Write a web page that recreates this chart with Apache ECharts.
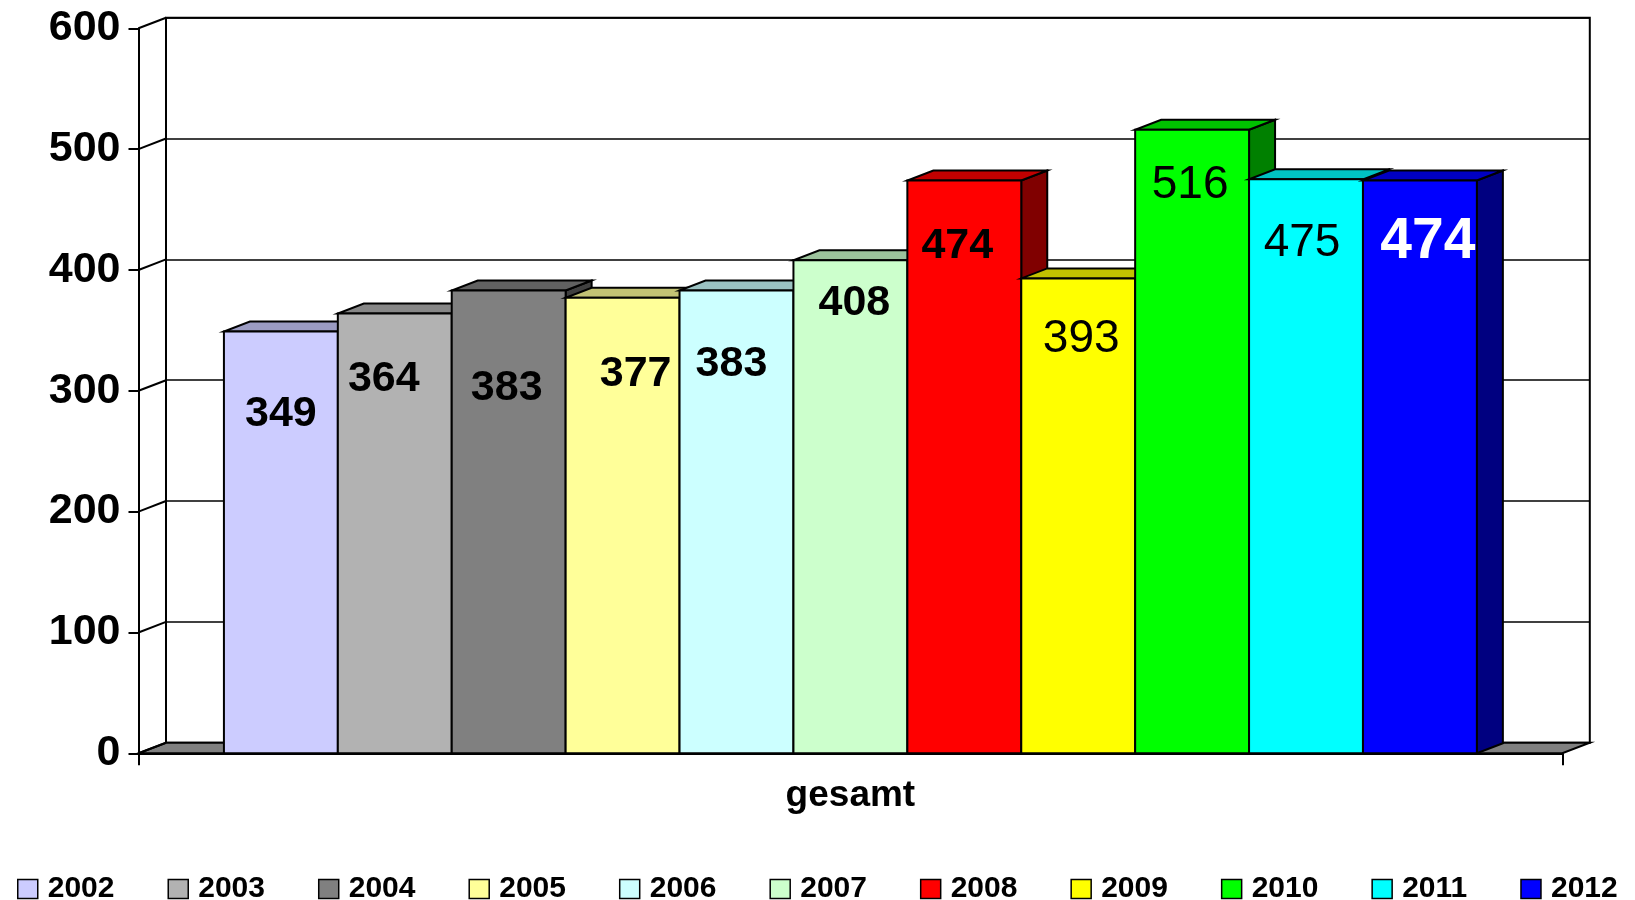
<!DOCTYPE html>
<html>
<head>
<meta charset="utf-8">
<script src="https://cdn.jsdelivr.net/npm/echarts@6/dist/echarts.min.js"></script>
<style>
html,body{margin:0;padding:0;background:#fff;}
#chart{width:1635px;height:900px;}
</style>
</head>
<body>
<div id="chart"></div>
<script>
// ---- data ----
const categories = ['gesamt'];
const years = ['2002','2003','2004','2005','2006','2007','2008','2009','2010','2011','2012'];
const values = [349, 364, 383, 377, 383, 408, 474, 393, 516, 475, 474];
const yTicks = [0, 100, 200, 300, 400, 500, 600];

// ---- styles ----
const colors = ['#CCCCFF','#B2B2B2','#808080','#FFFF99','#CCFFFF','#CCFFCC','#FF0000','#FFFF00','#00FF00','#00FFFF','#0000FF'];
// label style per bar: offset from bar top-centre, weight, size, colour
const labelStyles = [
  {dx:0,  dy:83, w:'bold',   s:43, c:'#000'},
  {dx:-11,dy:66, w:'bold',   s:43, c:'#000'},
  {dx:-2, dy:98, w:'bold',   s:43, c:'#000'},
  {dx:13, dy:76, w:'bold',   s:43, c:'#000'},
  {dx:-5, dy:74, w:'bold',   s:43, c:'#000'},
  {dx:4,  dy:43, w:'bold',   s:43, c:'#000'},
  {dx:-7, dy:66, w:'bold',   s:43, c:'#000'},
  {dx:3,  dy:61, w:'normal', s:46, c:'#000'},
  {dx:-2, dy:56, w:'normal', s:46, c:'#000'},
  {dx:-4, dy:64, w:'normal', s:46, c:'#000'},
  {dx:8,  dy:62, w:'bold',   s:57, c:'#fff'}
];
const FONT = '"Liberation Sans", Arial, sans-serif';
const FRONT = {left:138.5, right:72.7, top:28.3, bottom:146.7};
const WALL = {dx:27.5, dy:10.6};
const BAR = {dx:26, dy:10, fill:0.88};
const LW = 2;

function shade(hex, f){
  const n = parseInt(hex.slice(1),16);
  const r = Math.round(((n>>16)&255)*f), g = Math.round(((n>>8)&255)*f), b = Math.round((n&255)*f);
  return 'rgb('+r+','+g+','+b+')';
}

const chart = echarts.init(document.getElementById('chart'), null, {renderer:'canvas'});

function frameRender(params, api){
  const cs = params.coordSys;
  const v = api.value(1);
  const p = api.coord([0, v]);
  const children = [{
    type:'line',
    shape:{x1:cs.x, y1:p[1], x2:cs.x+WALL.dx, y2:p[1]-WALL.dy},
    style:{stroke:'#000', lineWidth:LW}
  }];
  if (v === yTicks[0]) {
    const yb = p[1];
    children.unshift({
      type:'polygon',
      shape:{points:[[cs.x,yb],[cs.x+cs.width,yb],[cs.x+cs.width+WALL.dx,yb-WALL.dy],[cs.x+WALL.dx,yb-WALL.dy]]},
      style:{fill:'#808080', stroke:'#000', lineWidth:LW}
    });
  }
  return {type:'group', children:children};
}

function barRender(params, api){
  const si = params.seriesIndex - 1;
  const band = api.size([1,0])[0];
  const total = band*BAR.fill;
  const bw = total/years.length;
  const base = api.coord([0, 0]);
  const topPt = api.coord([0, api.value(1)]);
  const x0 = base[0] - total/2 + si*bw, x1 = x0 + bw;
  const yb = base[1], yt = topPt[1];
  const col = colors[si];
  const ls = labelStyles[si];
  return {type:'group', children:[
    {type:'polygon', shape:{points:[[x1,yt],[x1+BAR.dx,yt-BAR.dy],[x1+BAR.dx,yb-BAR.dy],[x1,yb]]},
      style:{fill:shade(col,0.5), stroke:'#000', lineWidth:LW}},
    {type:'polygon', shape:{points:[[x0,yt],[x1,yt],[x1+BAR.dx,yt-BAR.dy],[x0+BAR.dx,yt-BAR.dy]]},
      style:{fill:shade(col,0.76), stroke:'#000', lineWidth:LW}},
    {type:'rect', shape:{x:x0, y:yt, width:bw, height:yb-yt},
      style:{fill:col, stroke:'#000', lineWidth:LW}},
    {type:'text', x:(x0+x1)/2+ls.dx, y:yt+ls.dy,
      style:{text:String(api.value(1)), fill:ls.c, font:ls.w+' '+ls.s+'px '+FONT, align:'center', verticalAlign:'middle'}}
  ]};
}

const series = [{
  type:'custom', name:'frame', xAxisIndex:0, yAxisIndex:0, z:1,
  renderItem:frameRender, silent:true,
  data: yTicks.map(v => [0, v])
}];
years.forEach((yr, i) => {
  series.push({
    type:'custom', name:yr, xAxisIndex:0, yAxisIndex:0, z:3,
    itemStyle:{color:colors[i], borderColor:'#000', borderWidth:1.5},
    renderItem:barRender,
    data:[[0, values[i]]]
  });
});

const option = {
  backgroundColor:'#fff',
  animation:false,
  textStyle:{fontFamily:FONT},
  legend:{
    data:years, left:12, top:869, width:1620, icon:'rect', itemWidth:20, itemHeight:19, itemGap:53,
    textStyle:{fontFamily:FONT, fontWeight:'bold', fontSize:30, color:'#000', lineHeight:30, padding:[0,0,0,5]},
    itemStyle:{borderColor:'#000', borderWidth:1.5}
  },
  grid:[
    {left:FRONT.left, right:FRONT.right, top:FRONT.top, bottom:FRONT.bottom, containLabel:false},
    {left:FRONT.left+WALL.dx, right:FRONT.right-WALL.dx, top:FRONT.top-WALL.dy, bottom:FRONT.bottom+WALL.dy,
      show:true, borderColor:'#000', borderWidth:LW, backgroundColor:'#fff', z:0}
  ],
  xAxis:[
    {type:'category', gridIndex:0, data:categories, boundaryGap:true,
      axisLine:{show:true, lineStyle:{color:'#000', width:LW}},
      axisTick:{show:true, length:12, lineStyle:{color:'#000', width:LW}},
      axisLabel:{fontFamily:FONT, fontWeight:'bold', fontSize:37, color:'#000', margin:24},
      z:2},
    {type:'category', gridIndex:1, data:categories, show:false}
  ],
  yAxis:[
    {type:'value', gridIndex:0, min:0, max:600, interval:100,
      axisLine:{show:true, lineStyle:{color:'#000', width:LW}},
      axisTick:{show:true, length:10, lineStyle:{color:'#000', width:LW}},
      axisLabel:{fontFamily:FONT, fontWeight:'bold', fontSize:43, color:'#000', margin:18},
      splitLine:{show:false}, z:2},
    {type:'value', gridIndex:1, min:0, max:600, interval:100,
      axisLine:{show:false}, axisTick:{show:false}, axisLabel:{show:false},
      splitLine:{show:true, lineStyle:{color:'#000', width:1.5}}}
  ],
  series:series
};
chart.setOption(option);
</script>
</body>
</html>
